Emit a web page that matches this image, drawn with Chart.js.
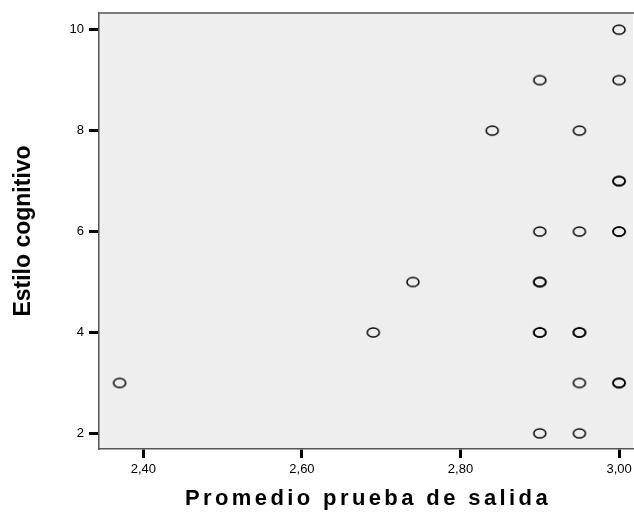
<!DOCTYPE html>
<html>
<head>
<meta charset="utf-8">
<script src="https://cdn.jsdelivr.net/npm/chart.js@4.4.1/dist/chart.umd.min.js"></script>
<style>
html,body{margin:0;padding:0;background:#fff;overflow:hidden;}
#wrap{width:640px;height:517px;position:relative;}
</style>
</head>
<body>
<div id="wrap"><canvas id="c"></canvas></div>
<script>
// Data (duplicates = overlapping points drawn darker)
const promedio = [3.00,3.00,3.00,3.00,3.00,3.00,3.00,3.00,
                  2.95,2.95,2.95,2.95,2.95,2.95,
                  2.90,2.90,2.90,2.90,2.90,2.90,2.90,
                  2.84,2.74,2.69,2.37];
const estilo   = [10,9,7,7,6,6,3,3,
                  8,6,4,4,3,2,
                  9,6,5,5,4,4,2,
                  8,5,4,3];
const xTicks = [2.40,2.60,2.80,3.00];
const yTicks = [2,4,6,8,10];
const xTitle = 'Promedio prueba de salida';
const yTitle = 'Estilo cognitivo';

const FONT = "'Liberation Sans', Arial, sans-serif";

// ellipse marker
const mk = document.createElement('canvas');
mk.width = 16; mk.height = 13;
(function(){
  const g = mk.getContext('2d');
  g.strokeStyle = '#000000';
  g.lineWidth = 1.5;
  g.beginPath();
  g.ellipse(8, 6.5, 6.0, 4.6, 0, 0, Math.PI*2);
  g.stroke();
})();

const framePlugin = {
  id: 'frame',
  beforeDraw(chart) {
    const {ctx, chartArea:a} = chart;
    ctx.save();
    ctx.fillStyle = '#eeeeee';
    ctx.fillRect(a.left, a.top, a.right - a.left, a.bottom - a.top);
    ctx.restore();
  },
  afterDraw(chart) {
    const {ctx, chartArea:a} = chart;
    ctx.save();
    ctx.strokeStyle = '#555555';
    ctx.lineWidth = 1.5;
    ctx.beginPath();
    ctx.moveTo(a.left, a.top);
    ctx.lineTo(a.right + 2, a.top);
    ctx.stroke();
    // x title with letter spacing
    ctx.fillStyle = '#000';
    ctx.font = "bold 22px " + FONT;
    ctx.letterSpacing = '3.4px';
    ctx.textAlign = 'center';
    ctx.textBaseline = 'alphabetic';
    ctx.fillText(xTitle, 368, 505);
    ctx.restore();
  }
};

const pts = promedio.map((x, i) => ({x: x, y: estilo[i]}));

new Chart(document.getElementById('c'), {
  type: 'scatter',
  data: { datasets: [{ data: pts, pointStyle: mk, pointRadius: 6, pointHoverRadius: 6 }] },
  options: {
    responsive: true,
    maintainAspectRatio: false,
    animation: false,
    events: [],
    layout: { padding: { top: 13, left: 0, right: 0, bottom: 0 } },
    plugins: { legend: { display: false }, tooltip: { enabled: false } },
    scales: {
      x: {
        type: 'linear',
        min: 2.344, max: 3.0176,
        afterBuildTicks: s => { s.ticks = xTicks.map(v => ({value: v})); },
        afterFit: s => { s.height = 68; },
        ticks: {
          callback: v => v.toFixed(2).replace('.', ','),
          color: '#000', font: { family: FONT, size: 13 }, padding: 4,
          autoSkip: false, maxRotation: 0
        },
        grid: { drawOnChartArea: false, drawTicks: true, tickLength: 9, tickWidth: 3, tickColor: '#000' },
        border: { display: true, color: '#555555', width: 1.5 }
      },
      y: {
        type: 'linear',
        min: 1.69, max: 10.33,
        afterBuildTicks: s => { s.ticks = yTicks.map(v => ({value: v})); },
        afterFit: s => { s.width = 99; },
        ticks: {
          color: '#000', font: { family: FONT, size: 13 }, padding: 5, autoSkip: false
        },
        grid: { drawOnChartArea: false, drawTicks: true, tickLength: 10, tickWidth: 3, tickColor: '#000' },
        border: { display: true, color: '#555555', width: 1.5 },
        title: { display: true, text: yTitle, color: '#000',
                 font: { family: FONT, size: 23, weight: 'bold' }, padding: { top: 10, bottom: 0 } }
      }
    }
  },
  plugins: [framePlugin]
});
</script>
</body>
</html>
